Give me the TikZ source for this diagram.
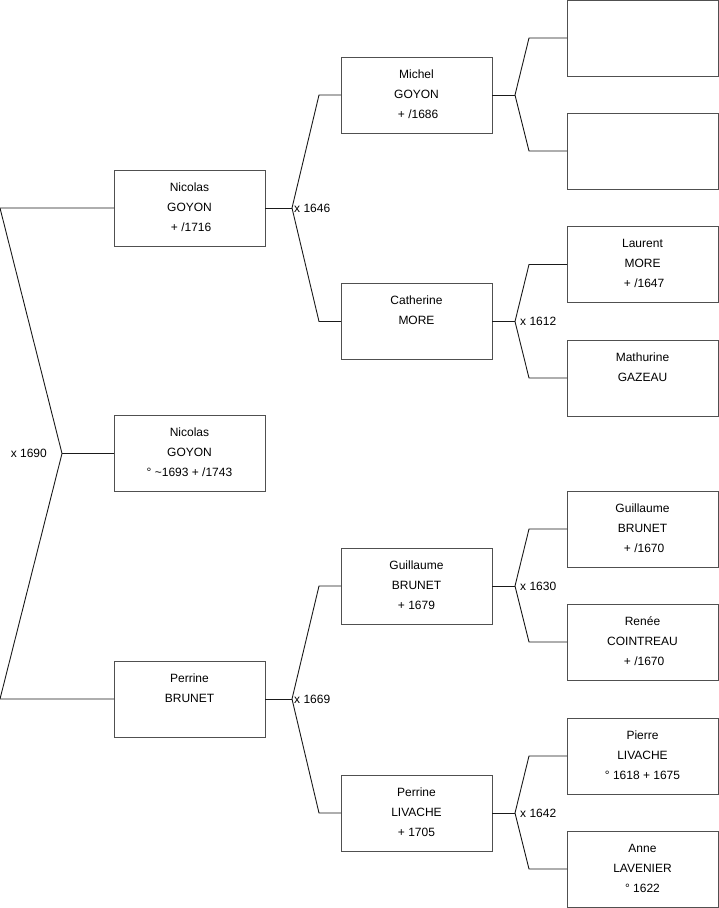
\documentclass[tikz,border=0pt]{standalone}
\usepackage{fontspec}
\setmainfont{Liberation Sans}
\definecolor{boxline}{HTML}{505050}
\definecolor{conn}{HTML}{1A1A1A}
\newcommand\bxt[1]{\parbox[c][76pt][t]{151pt}{\centering\fontsize{12}{20}\selectfont\rule{0pt}{21pt}#1\par}}
\tikzset{
  person/.style={draw=boxline, line width=1pt, minimum width=151pt, minimum height=76pt, inner sep=0pt, outer sep=0pt},
  link/.style={draw=conn, line width=0.9pt},
  marr/.style={inner sep=0pt, font=\fontsize{12}{14}\selectfont}
}
\begin{document}
\begin{tikzpicture}[x=1pt,y=-1pt]
\useasboundingbox (0,0) rectangle (719,908);
% column 1
\node[person] (a1) at (189.5,208) {\bxt{Nicolas\\GOYON\\ \ + /1716}};
\node[person] (a0) at (189.5,453.5) {\bxt{Nicolas\\GOYON\\° \textasciitilde1693 + /1743}};
\node[person] (a2) at (189.5,699) {\bxt{Perrine\\BRUNET}};
% column 2
\node[person] (b1) at (416.5,95) {\bxt{Michel\\GOYON\\ \ + /1686}};
\node[person] (b2) at (416.5,321.5) {\bxt{Catherine\\MORE}};
\node[person] (b3) at (416.5,586) {\bxt{Guillaume\\BRUNET\\+ 1679}};
\node[person] (b4) at (416.5,813) {\bxt{Perrine\\LIVACHE\\+ 1705}};
% column 3
\node[person] (c1) at (642.5,38) {\bxt{}};
\node[person] (c2) at (642.5,151) {\bxt{}};
\node[person] (c3) at (642.5,264.5) {\bxt{Laurent\\MORE\\ \ + /1647}};
\node[person] (c4) at (642.5,378) {\bxt{Mathurine\\GAZEAU}};
\node[person] (c5) at (642.5,529) {\bxt{Guillaume\\BRUNET\\ \ + /1670}};
\node[person] (c6) at (642.5,642) {\bxt{Renée\\COINTREAU\\ \ + /1670}};
\node[person] (c7) at (642.5,756) {\bxt{Pierre\\LIVACHE\\° 1618 + 1675}};
\node[person] (c8) at (642.5,869) {\bxt{Anne\\LAVENIER\\° 1622}};
% vertices
\coordinate (v0) at (62,453.5);
\coordinate (v1) at (292,208);
\coordinate (v2) at (292,699);
\coordinate (w1) at (515,95);
\coordinate (w2) at (515,321.5);
\coordinate (w3) at (515,586);
\coordinate (w4) at (515,813);
% level 1
\draw[link] (a0.west) -- (v0);
\draw[link] (v0) -- (0,208) coordinate (l1) -- (a1.west);
\draw[link] (v0) -- (0,699) coordinate (l2) -- (a2.west);
\node[marr, anchor=east] (m0) at (47,453.5) {x 1690};
% level 2
\draw[link] (a1.east) -- (v1);
\draw[link] (v1) -- ([xshift=-22pt]b1.west) -- (b1.west);
\draw[link] (v1) -- ([xshift=-22pt]b2.west) -- (b2.west);
\node[marr, anchor=west] (m1) at (294,208) {x 1646};
\draw[link] (a2.east) -- (v2);
\draw[link] (v2) -- ([xshift=-22pt]b3.west) -- (b3.west);
\draw[link] (v2) -- ([xshift=-22pt]b4.west) -- (b4.west);
\node[marr, anchor=west] (m2) at (294,699) {x 1669};
% level 3
\foreach \b/\w/\u/\d/\lab in {b1/w1/c1/c2/, b2/w2/c3/c4/x 1612, b3/w3/c5/c6/x 1630, b4/w4/c7/c8/x 1642}{
  \draw[link] (\b.east) -- (\w);
  \draw[link] (\w) -- ([xshift=-38pt]\u.west) -- (\u.west);
  \draw[link] (\w) -- ([xshift=-38pt]\d.west) -- (\d.west);
  \node[marr, anchor=west] at ([xshift=5pt]\w) {\lab};
}
\end{tikzpicture}
\end{document}
